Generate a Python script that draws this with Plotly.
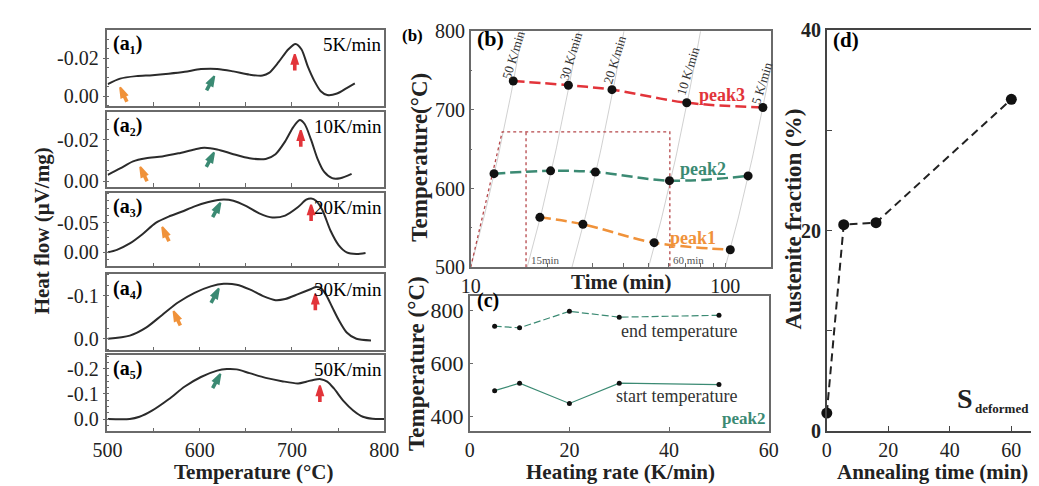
import numpy as np
import plotly.graph_objects as go

W, H = 1039, 486
FONT = "Liberation Serif"
INK = "#222222"

# ---------------- data ----------------
# (a) DSC heat-flow curves: temperature (°C) and heat flow (µV/mg)
a1_T = [500.3, 513.7, 531.2, 548.7, 566.3, 583.8, 601.3, 618.9, 636.4, 654.0, 668.1, 675.1,
        685.6, 696.1, 703.8, 710.2, 717.2, 724.2, 731.2, 738.2, 748.8, 759.3, 768.1]
a1_H = [-0.0063, -0.0092, -0.0105, -0.0110, -0.0118, -0.0128, -0.0142, -0.0143, -0.0130, -0.0113,
        -0.0108, -0.0122, -0.0180, -0.0247, -0.0275, -0.0247, -0.0155, -0.0080, -0.0025, -0.0005,
        -0.0013, -0.0042, -0.0067]
a2_T = [500.3, 513.7, 527.7, 541.8, 559.3, 576.8, 594.4, 604.9, 618.9, 636.4, 654.0, 671.5,
        682.1, 692.6, 701.4, 708.4, 713.7, 720.7, 727.7, 734.7, 743.5, 752.3, 764.6]
a2_H = [-0.0031, -0.0062, -0.0096, -0.0111, -0.0120, -0.0135, -0.0154, -0.0162, -0.0154, -0.0131,
        -0.0111, -0.0108, -0.0131, -0.0193, -0.0262, -0.0296, -0.0277, -0.0200, -0.0108, -0.0046,
        -0.0015, -0.0015, -0.0036]
a3_T = [500.3, 510.2, 524.2, 538.2, 552.3, 566.3, 580.3, 594.4, 608.4, 622.4, 636.5, 650.5, 664.5,
        678.6, 692.6, 706.6, 715.4, 720.7, 726.0, 733.0, 741.8, 750.5, 759.3, 769.8, 779.7]
a3_H = [0.0, -0.0042, -0.0150, -0.0311, -0.0500, -0.0606, -0.0687, -0.0779, -0.0848, -0.0892,
        -0.0876, -0.0784, -0.0661, -0.0590, -0.0623, -0.0768, -0.0892, -0.0913, -0.0876, -0.0714,
        -0.0365, -0.0123, 0.0, 0.0027, 0.0011]
a4_T = [500.3, 524.2, 541.8, 559.3, 576.8, 594.4, 611.9, 626.0, 640.0, 654.1, 668.1, 682.1, 692.6,
        706.6, 720.7, 726.0, 731.2, 736.5, 743.5, 750.5, 759.3, 769.8, 785.6]
a4_H = [0.0, -0.0074, -0.026, -0.0556, -0.085, -0.107, -0.122, -0.128, -0.126, -0.115, -0.100,
        -0.090, -0.0926, -0.104, -0.116, -0.1207, -0.118, -0.104, -0.074, -0.0444, -0.0148, 0.0, 0.0037]
a5_T = [500.3, 524.2, 534.7, 548.7, 566.3, 583.8, 601.3, 618.9, 629.4, 639.9, 654.0, 671.5, 689.0,
        706.6, 715.4, 724.1, 731.2, 738.2, 745.2, 755.7, 766.3, 776.8, 787.3, 800.0]
a5_H = [0.0, 0.0, -0.0089, -0.0343, -0.0787, -0.1295, -0.1676, -0.193, -0.1994, -0.198, -0.183,
        -0.164, -0.151, -0.142, -0.149, -0.157, -0.159, -0.149, -0.123, -0.0724, -0.0343, -0.0089,
        -0.001, 0.0]
a_rates = ["5K/min", "10K/min", "20K/min", "30K/min", "50K/min"]
a_tags = ["(a\u2081)", "(a\u2082)", "(a\u2083)", "(a\u2084)", "(a\u2085)"]

# peak markers (panel index, temperature, heat flow) - arrow tips
peak1_marks = [(1, 513.7, -0.0045), (2, 535.5, -0.0069), (3, 559.3, -0.0429), (4, 571.6, -0.0644)]
peak2_marks = [(1, 615.8, -0.0105), (2, 615.5, -0.0139), (3, 622.4, -0.0839), (4, 620.7, -0.117),
               (5, 622.4, -0.180)]
peak3_marks = [(1, 703.0, -0.022), (2, 709.5, -0.0246), (3, 720.7, -0.0806), (4, 725.3, -0.104),
               (5, 730.2, -0.133)]

# (b) peak temperature vs time
rates_b = [50, 30, 20, 10, 5]
rate_labels_b = ["50 K/min", "30 K/min", "20 K/min", "10 K/min", "5 K/min"]
peak3_t = [14.7, 24.2, 35.9, 70.6, 140.6]
peak3_T = [736.6, 731.3, 725.6, 709.0, 703.0]
peak2_t = [12.35, 20.6, 30.9, 60.4, 123.0]
peak2_T = [618.9, 622.5, 621.0, 610.0, 616.0]
peak1_t = [18.7, 27.6, 52.6, 104.7]
peak1_T = [563.4, 554.6, 531.2, 522.2]
hold_t = [10, 13.3, 60.6, 60.6]
hold_T = [500, 672, 672, 500]
hold15_t = [16.5, 16.5]
hold15_T = [500, 672]

# (c) start / end temperature of peak2 vs heating rate
rate_c = [5, 10, 20, 30, 50]
end_T = [740, 734, 796, 774, 781]
start_T = [498, 526, 450, 526, 521]

# (d) austenite fraction vs annealing time
anneal_t = [0, 5.5, 16, 60]
austenite = [1.8, 20.6, 20.8, 33.1]

# ---------------- colours ----------------
C_ORANGE = "#f0923a"
C_TEAL = "#3b8a73"
C_RED = "#e2343a"
C_CURVE = "#2b2b2b"
C_BOX = "#6a6a6a"


def dom_x(l, r):
    return [l / W, r / W]


def dom_y(t, b):
    return [1 - b / H, 1 - t / H]


def pxp(x, y):
    return x / W, 1 - y / H


fig = go.Figure()
annotations = []


def ann(text, x, y, size, color="black", bold=False, xanchor="center", angle=0):
    px, py = pxp(x, y)
    annotations.append(dict(
        text=f"<b>{text}</b>" if bold else text, x=px, y=py, xref="paper", yref="paper",
        showarrow=False, xanchor=xanchor, yanchor="middle", textangle=angle,
        font=dict(family=FONT, size=size, color=color)))


def ax_name(p, kind):
    return kind if p == 1 else f"{kind}{p}"


# ---------------- panel (a) ----------------
a_curves = [(a1_T, a1_H), (a2_T, a2_H), (a3_T, a3_H), (a4_T, a4_H), (a5_T, a5_H)]
a_dom = [(12, 91), (97, 176), (182, 259), (267, 347), (352, 432)]
a_range = [[0.0052, -0.0346], [0.0028, -0.0337], [0.0237, -0.101], [0.0267, -0.151], [0.0495, -0.255]]
a_tickv = [[-0.02, 0], [-0.02, 0], [-0.05, 0], [-0.1, 0], [-0.2, -0.1, 0]]
a_tickt = [["-0.02", "0.00"], ["-0.02", "0.00"], ["-0.05", "0.00"], ["-0.1", "0.0"], ["-0.2", "-0.1", "0.0"]]
a_minor = [0.01, 0.01, 0.025, 0.05, 0.05]
A_X0, A_X1 = 87, 372

layout_axes = {}
for i, (T, Hf) in enumerate(a_curves, start=1):
    xa, ya = ax_name(i, "x"), ax_name(i, "y")
    fig.add_trace(go.Scatter(x=T, y=Hf, mode="lines", xaxis=xa, yaxis=ya, showlegend=False,
                             line=dict(color=C_CURVE, width=2, shape="spline", smoothing=0.8),
                             hoverinfo="skip"))
    xk = "xaxis" if i == 1 else f"xaxis{i}"
    yk = "yaxis" if i == 1 else f"yaxis{i}"
    layout_axes[xk] = dict(
        domain=dom_x(A_X0, A_X1), range=[500, 800], anchor=ya, showgrid=False, zeroline=False,
        showline=True, mirror=True, linecolor=C_BOX, linewidth=1.5, ticks="inside", ticklen=4,
        tickcolor=C_BOX, tickvals=[500, 600, 700, 800],
        minor=dict(tickmode="linear", tick0=500, dtick=50, ticks="inside", ticklen=4, tickcolor=C_BOX),
        showticklabels=(i == 5), tickfont=dict(family=FONT, size=20, color=INK),
        matches=None if i == 1 else "x")
    layout_axes[yk] = dict(
        domain=dom_y(*a_dom[i - 1]), range=a_range[i - 1], anchor=xa, showgrid=False, zeroline=False,
        showline=True, mirror=True, linecolor=C_BOX, linewidth=1.5, ticks="outside", ticklen=3,
        tickcolor=C_BOX, tickvals=a_tickv[i - 1], ticktext=a_tickt[i - 1],
        tickfont=dict(family=FONT, size=20, color=INK),
        minor=dict(tickmode="linear", tick0=0, dtick=a_minor[i - 1] / 2, ticks="inside", ticklen=2,
                   tickcolor=C_BOX))

# peak arrows: shaft (line) + head (arrow marker), offsets in screen pixels
x_per_px = 300 / (A_X1 - A_X0)
for marks, color, dxp, dyp, ang in [(peak1_marks, C_ORANGE, 7, 15, -25), (peak2_marks, C_TEAL, -8, 15, 28),
                                    (peak3_marks, C_RED, 0, 17, 0)]:
    for (p, T, v) in marks:
        top, bot = a_dom[p - 1]
        y_per_px = (a_range[p - 1][0] - a_range[p - 1][1]) / (bot - top)
        tail_T, tail_v = T + dxp * x_per_px, v + dyp * y_per_px
        mid_T, mid_v = T + 0.4 * dxp * x_per_px, v + 0.4 * dyp * y_per_px
        fig.add_trace(go.Scatter(x=[tail_T, mid_T], y=[tail_v, mid_v], mode="lines",
                                 xaxis=ax_name(p, "x"), yaxis=ax_name(p, "y"), showlegend=False,
                                 line=dict(color=color, width=3.6), hoverinfo="skip"))
        fig.add_trace(go.Scatter(x=[T], y=[v], mode="markers", xaxis=ax_name(p, "x"),
                                 yaxis=ax_name(p, "y"), showlegend=False, hoverinfo="skip",
                                 marker=dict(symbol="arrow", size=10, angle=ang, color=color,
                                             line=dict(color=color, width=2))))

a_label_y = [26, 112, 196, 282, 366]
for i in range(5):
    ann(a_tags[i], 91, a_label_y[i], 20, bold=True, xanchor="left")
    ann(a_rates[i], 372, a_label_y[i] + 1, 19, xanchor="right")
ann("Heat flow (\u03bcV/mg)", 20, 222, 21, color=INK, bold=True, angle=-90)
ann("Temperature (\u00b0C)", 237, 474, 21, color=INK, bold=True)

# ---------------- panel (b) ----------------
for r in rates_b:
    tt = np.geomspace(500 / r, 800 / r, 40)
    fig.add_trace(go.Scatter(x=tt, y=r * tt, mode="lines", xaxis="x6", yaxis="y6", showlegend=False,
                             line=dict(color="#b0b0b0", width=0.6), hoverinfo="skip"))
for tx, ty in [(hold_t, hold_T), (hold15_t, hold15_T)]:
    fig.add_trace(go.Scatter(x=tx, y=ty, mode="lines", xaxis="x6", yaxis="y6", showlegend=False,
                             line=dict(color="#b5474a", width=1.3, dash="dot"), hoverinfo="skip"))
for tx, ty, col in [(peak3_t, peak3_T, C_RED), (peak2_t, peak2_T, C_TEAL), (peak1_t, peak1_T, C_ORANGE)]:
    fig.add_trace(go.Scatter(x=tx, y=ty, mode="lines", xaxis="x6", yaxis="y6", showlegend=False,
                             line=dict(color=col, width=2.5, dash="11px,5px", shape="spline"),
                             hoverinfo="skip"))
    fig.add_trace(go.Scatter(x=tx, y=ty, mode="markers", xaxis="x6", yaxis="y6", showlegend=False,
                             marker=dict(color="#111111", size=9), cliponaxis=False))

layout_axes["xaxis6"] = dict(
    type="log", domain=dom_x(461, 770), range=[1, np.log10(151)], anchor="y6", showgrid=False,
    zeroline=False, showline=True, mirror=True, linecolor=C_BOX, linewidth=1.5, ticks="inside",
    ticklen=4, tickcolor=C_BOX, tickvals=[10, 100], ticktext=["10", "100"],
    minor=dict(tickmode="array", tickvals=[20, 30, 40, 50, 60, 70, 80, 90], ticks="inside",
               ticklen=4, tickcolor=C_BOX),
    tickfont=dict(family=FONT, size=20, color=INK))
layout_axes["yaxis6"] = dict(
    domain=dom_y(12.7, 260), range=[500, 800], anchor="x6", showgrid=False, zeroline=False,
    showline=True, mirror=True, linecolor=C_BOX, linewidth=1.5, ticks="inside", ticklen=4,
    tickcolor=C_BOX, tickvals=[500, 600, 700, 800], tickfont=dict(family=FONT, size=20, color=INK),
    minor=dict(tickmode="linear", tick0=500, dtick=50, ticks="inside", ticklen=2, tickcolor=C_BOX))

rate_lab_pos = [(505, 37), (564, 39), (609, 42), (685, 54), (761, 68)]
for lab, (x, y) in zip(rate_labels_b, rate_lab_pos):
    ann(lab, x, y, 13, color="#333333", angle=-73)
ann("peak3", 720, 80, 18, color=C_RED, bold=True)
ann("peak2", 700, 157, 18, color=C_TEAL, bold=True)
ann("peak1", 690, 229, 18, color=C_ORANGE, bold=True)
ann("15min", 521, 252, 11, color="#555555", xanchor="left")
ann("60 min", 667, 252, 11, color="#555555", xanchor="left")
ann("(b)", 465, 20, 22, bold=True, xanchor="left")
ann("(b)", 388, 17, 17, bold=True, xanchor="left")
ann("Temperature(\u00b0C)", 408, 145, 23, color=INK, bold=True, angle=-90)
ann("Time (min)", 616, 275, 21, color=INK, bold=True)

# ---------------- panel (c) ----------------
fig.add_trace(go.Scatter(x=rate_c, y=end_T, mode="lines+markers", xaxis="x7", yaxis="y7",
                         showlegend=False, line=dict(color=C_TEAL, width=1.2, dash="7px,3px"),
                         marker=dict(color="#111111", size=5)))
fig.add_trace(go.Scatter(x=rate_c, y=start_T, mode="lines+markers", xaxis="x7", yaxis="y7",
                         showlegend=False, line=dict(color=C_TEAL, width=1.2),
                         marker=dict(color="#111111", size=5)))
layout_axes["xaxis7"] = dict(
    domain=dom_x(460, 768), range=[0, 60], anchor="y7", showgrid=False, zeroline=False,
    showline=True, mirror=True, linecolor=C_BOX, linewidth=1.5, ticks="inside", ticklen=4,
    tickcolor=C_BOX, tickvals=[0, 20, 40, 60], tickfont=dict(family=FONT, size=20, color=INK))
layout_axes["yaxis7"] = dict(
    domain=dom_y(290, 431.7), range=[346, 854], anchor="x7", showgrid=False, zeroline=False,
    showline=True, mirror=True, linecolor=C_BOX, linewidth=1.5, ticks="inside", ticklen=4,
    tickcolor=C_BOX, tickvals=[400, 600, 800], tickfont=dict(family=FONT, size=22, color=INK))
ann("(c)", 465, 295, 20, bold=True, xanchor="left")
ann("end temperature", 675, 327, 18, color="#333333")
ann("start temperature", 673, 395, 18, color="#333333")
ann("peak2", 742, 418, 17, color=C_TEAL, bold=True)
ann("Temperature (\u00b0C)", 405, 361, 23, color=INK, bold=True, angle=-90)
ann("Heating rate (K/min)", 615, 475, 21, color=INK, bold=True)

# ---------------- panel (d) ----------------
fig.add_trace(go.Scatter(x=anneal_t, y=austenite, mode="lines+markers", xaxis="x8", yaxis="y8",
                         showlegend=False, cliponaxis=False,
                         line=dict(color="#222222", width=2, dash="8px,5px"),
                         marker=dict(color="#111111", size=11)))
layout_axes["xaxis8"] = dict(
    domain=dom_x(827.7, 1038), range=[0, 66.4], anchor="y8", showgrid=False, zeroline=False,
    showline=True, mirror=True, linecolor="#444444", linewidth=1.5, ticks="inside", ticklen=5,
    tickcolor="#444444", tickvals=[0, 20, 40, 60], tickfont=dict(family=FONT, size=20, color=INK))
layout_axes["yaxis8"] = dict(
    domain=dom_y(11.7, 431.7), range=[0, 40], anchor="x8", showgrid=False, zeroline=False,
    showline=True, mirror=True, linecolor="#444444", linewidth=1.5, ticks="inside", ticklen=5,
    tickcolor="#444444", tickvals=[0, 20, 40], ticktext=["<b>0</b>", "<b>20</b>", "<b>40</b>"],
    tickfont=dict(family=FONT, size=20, color=INK),
    minor=dict(tickmode="linear", tick0=0, dtick=10, ticks="inside", ticklen=5, tickcolor="#444444"))
ann("(d)", 832, 22, 21, bold=True, xanchor="left")
ann("S", 970, 398, 28, color=INK, bold=True)
ann("deformed", 978, 408, 13, color=INK, bold=True, xanchor="left")
ann("Austenite fraction (%)", 793, 210, 23, color=INK, bold=True, angle=-90)
ann("Annealing time (min)", 937, 474, 21, color=INK, bold=True)

fig.update_layout(
    width=W, height=H, autosize=False, margin=dict(l=0, r=0, t=0, b=0),
    paper_bgcolor="white", plot_bgcolor="white", showlegend=False,
    font=dict(family=FONT, color=INK), annotations=annotations, **layout_axes)

fig.write_html("out.html")
